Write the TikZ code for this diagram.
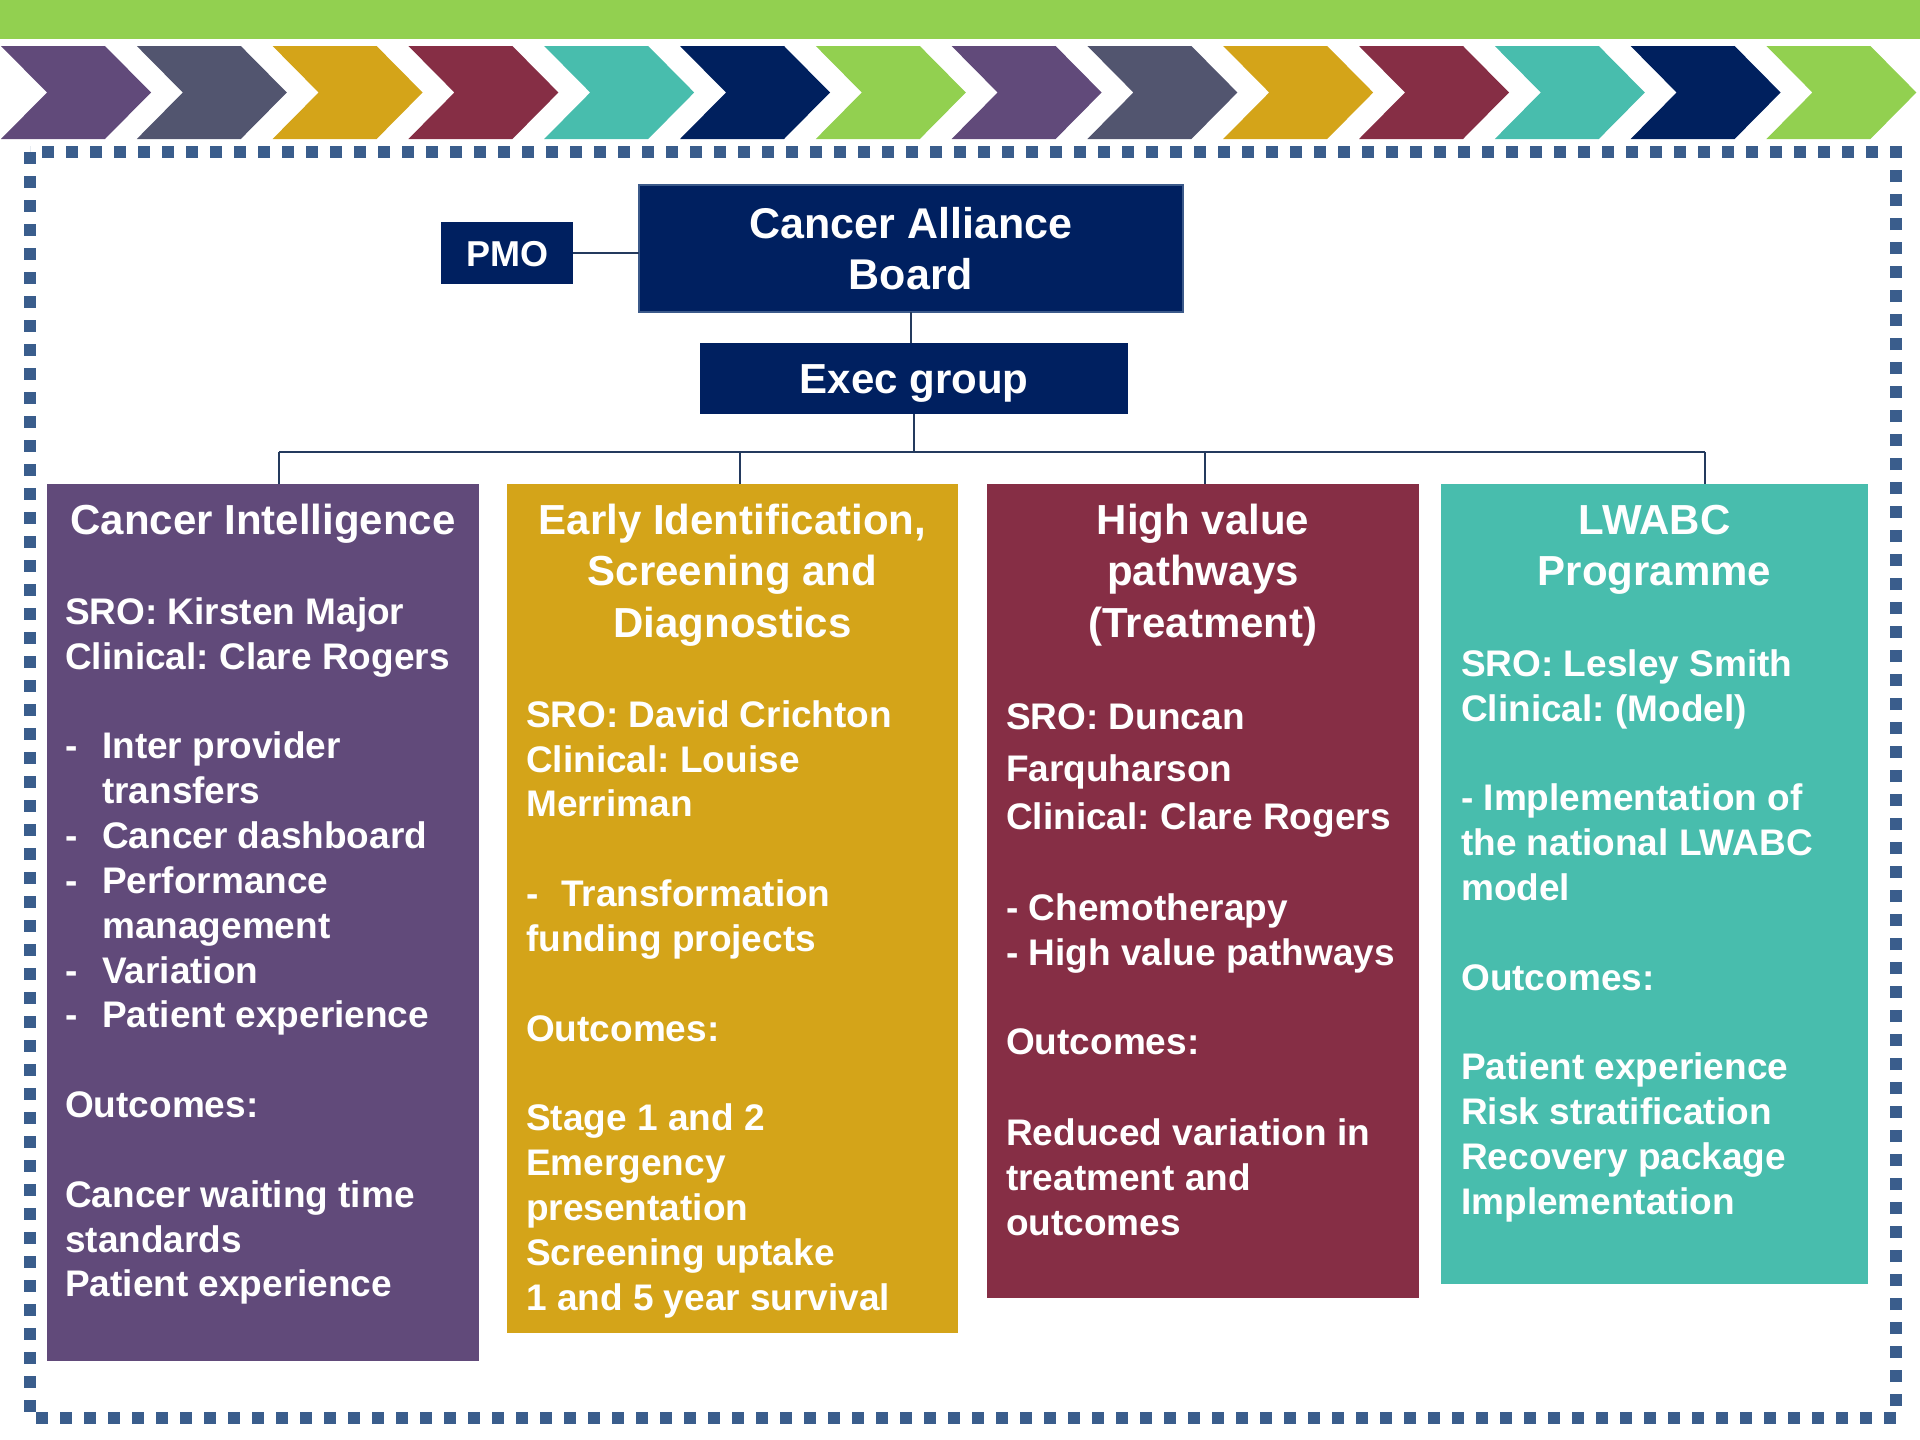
\documentclass[tikz,border=0pt]{standalone}
\usepackage{fontspec}
\setmainfont{Liberation Sans}[Ligatures={TeX,NoCommon}]
\frenchspacing

% palette
\definecolor{cPurple}{HTML}{614A7A}
\definecolor{cSlate}{HTML}{52556F}
\definecolor{cGold}{HTML}{D4A419}
\definecolor{cMaroon}{HTML}{862E45}
\definecolor{cTeal}{HTML}{48BDAD}
\definecolor{cNavy}{HTML}{00205E}
\definecolor{cGreen}{HTML}{92D050}
\definecolor{boxNavy}{HTML}{002060}
\definecolor{boardEdge}{HTML}{3C5A8A}
\definecolor{frameBlue}{HTML}{3A5D8C}
\definecolor{linkCol}{HTML}{243A5E}

\begin{document}
\begin{tikzpicture}[x=1pt,y=-1pt,
  hdr/.style={fill=boxNavy, text=white, inner sep=0pt, outer sep=0pt, align=center},
  panel/.style={inner sep=0pt, outer sep=0pt},
  ttl/.style={anchor=north, align=center, inner sep=0pt, text=white,
              font=\fontsize{42}{51.4}\selectfont\bfseries},
  bodytxt/.style={anchor=north west, align=left, inner sep=0pt, text=white,
              font=\fontsize{37}{44.85}\selectfont\bfseries},
  link/.style={draw=linkCol, line width=2pt},
  frame/.style={draw=frameBlue, line width=12pt, dash pattern=on 12pt off 12pt}
]
\useasboundingbox (0,0) rectangle (1920,1440);

% top banner
\fill[cGreen] (0,0) rectangle (1920,39);

% chevron strip
\foreach \col [count=\i from 0] in {cPurple,cSlate,cGold,cMaroon,cTeal,cNavy,cGreen,
                                    cPurple,cSlate,cGold,cMaroon,cTeal,cNavy,cGreen} {
  \pgfmathsetmacro\xs{1+135.8*\i}
  \fill[\col] (\xs,46) -- ++(104,0) -- ++(46,46.5) -- ++(-46,46.5)
              -- ++(-104,0) -- ++(46,-46.5) -- cycle;
}

% dotted frame
\draw[frame] (30,152) rectangle (1896,1418);

% governance boxes
\node[hdr, draw=boardEdge, line width=1.5pt, minimum width=544, minimum height=127,
      font=\fontsize{43}{51.6}\selectfont\bfseries] (board) at (911,248.5)
      {Cancer Alliance\\Board};
\node[hdr, minimum width=132, minimum height=62, text height=26pt, text depth=0pt,
      font=\fontsize{36}{43}\selectfont\bfseries] (pmo) at (507,253) {PMO};
\node[hdr, minimum width=428, minimum height=71, text height=30pt, text depth=0pt,
      font=\fontsize{42}{50}\selectfont\bfseries] (exec) at (914,378.5) {Exec group};

% workstream panels
\node[panel, fill=cPurple, minimum width=432, minimum height=877] (ci)  at (263,922.5) {};
\node[panel, fill=cGold,   minimum width=451, minimum height=849] (eis) at (732.5,908.5) {};
\node[panel, fill=cMaroon, minimum width=432, minimum height=814] (hvp) at (1203,891) {};
\node[panel, fill=cTeal,   minimum width=427, minimum height=800] (lw)  at (1654.5,884) {};

% connectors
\draw[link] (pmo.east) -- (pmo.east -| board.west);
\draw[link] (board.south) -- (board.south |- exec.north);
\coordinate (busL) at (279,452);
\coordinate (busR) at (1705,452);
\coordinate (drop2) at (740,452);
\coordinate (drop3) at (1205,452);
\draw[link] (exec.south) -- (exec.south |- busL);
\draw[link, line width=2.5pt] (busL) -- (busR);
\draw[link] (busL) -- (busL |- ci.north);
\draw[link] (drop2) -- (drop2 |- eis.north);
\draw[link] (drop3) -- (drop3 |- hvp.north);
\draw[link] (busR) -- (busR |- lw.north);

% Cancer Intelligence
\node[ttl] (ci-title) at (263,500) {\rule{0pt}{34pt}Cancer Intelligence};
\node[bodytxt] (ci-body) at (65,594) {\rule{0pt}{30pt}SRO: Kirsten Major\\
  Clinical: Clare Rogers\\[44.85pt]
  \makebox[37pt][l]{-}Inter provider\\
  \hspace*{37pt}transfers\\
  \makebox[37pt][l]{-}Cancer dashboard\\
  \makebox[37pt][l]{-}Performance\\
  \hspace*{37pt}management\\
  \makebox[37pt][l]{-}Variation\\
  \makebox[37pt][l]{-}Patient experience\\[44.85pt]
  Outcomes:\\[44.85pt]
  Cancer waiting time\\
  standards\\
  Patient experience};

% Early Identification
\node[ttl] (eis-title) at (732.5,500) {\rule{0pt}{34pt}Early Identification,\\Screening and\\Diagnostics};
\node[bodytxt] (eis-body) at (526,697) {\rule{0pt}{30pt}SRO: David Crichton\\
  Clinical: Louise\\
  Merriman\\[44.85pt]
  \makebox[35pt][l]{-}Transformation\\
  funding projects\\[44.85pt]
  Outcomes:\\[44.85pt]
  Stage 1 and 2\\
  Emergency\\
  presentation\\
  Screening uptake\\
  1 and 5 year survival};

% High value pathways
\node[ttl] (hvp-title) at (1203,500) {\rule{0pt}{34pt}High value\\pathways\\(Treatment)};
\node[bodytxt] (hvp-body) at (1006,699.5) {\rule{0pt}{30pt}SRO: Duncan\\[6.5pt]
  Farquharson\\[4pt]
  Clinical: Clare Rogers\\[46pt]
  - Chemotherapy\\
  - High value pathways\\[44pt]
  Outcomes:\\[46pt]
  Reduced variation in\\
  treatment and\\
  outcomes};

% LWABC
\node[ttl] (lw-title) at (1654.5,500) {\rule{0pt}{34pt}LWABC\\Programme};
\node[bodytxt] (lw-body) at (1461,646) {\rule{0pt}{30pt}SRO: Lesley Smith\\
  Clinical: (Model)\\[44.85pt]
  - Implementation of\\
  the national LWABC\\
  model\\[44.85pt]
  Outcomes:\\[44.85pt]
  Patient experience\\
  Risk stratification\\
  Recovery package\\
  Implementation};
\end{tikzpicture}
\end{document}
